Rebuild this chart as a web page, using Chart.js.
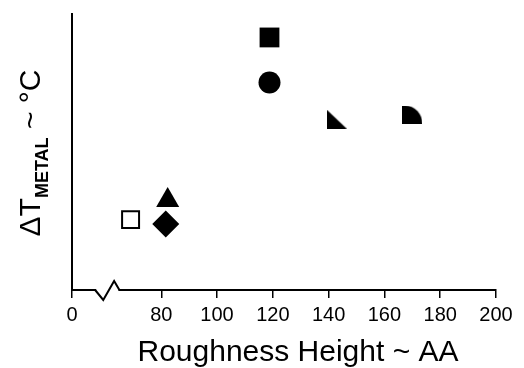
<!DOCTYPE html>
<html>
<head>
<meta charset="utf-8">
<script src="https://cdn.jsdelivr.net/npm/chart.js@4"></script>
<style>
  html, body { margin: 0; padding: 0; background: #fff; }
  canvas { display: block; }
</style>
</head>
<body>
<canvas id="roughChart" width="524" height="368"></canvas>
<script>
// Werte (x: Rauheit, y: relative Lage, keine Skala angegeben)
const markerNames = ["open square", "triangle", "diamond", "square", "circle", "right triangle", "quarter disc"];
const roughness = [69, 82.3, 81.6, 118.8, 118.8, 142.9, 170];
const deltaT = [25.5, 32.5, 23.9, 91.5, 75.2, 61.9, 63.5];

// Achse: gebrochen, "0" sitzt bei 48
const xTickValues = [48, 80, 100, 120, 140, 160, 180, 200];
const xTickLabels = ["0", "80", "100", "120", "140", "160", "180", "200"];
const breakValues = [56.3, 59.2, 63.1, 65.0];

const FONT = "'Liberation Sans', Arial, sans-serif";

// eigene Marker als kleine Canvas
function makeRightTriangle() {
  const c = document.createElement("canvas");
  c.width = 20; c.height = 19;
  const g = c.getContext("2d");
  g.fillStyle = "#000";
  g.beginPath();
  g.moveTo(0, 0); g.lineTo(0, 19); g.lineTo(20, 19);
  g.closePath(); g.fill();
  return c;
}
function makeQuarterDisc() {
  const c = document.createElement("canvas");
  c.width = 20; c.height = 18;
  const g = c.getContext("2d");
  g.fillStyle = "#000";
  g.beginPath();
  g.moveTo(0, 18);
  g.lineTo(0, 0);
  g.lineTo(3, 0);
  g.ellipse(3, 18, 17, 18, 0, -Math.PI / 2, 0);
  g.closePath(); g.fill();
  return c;
}

const styles = [
  { pointStyle: "rect", radius: 12, bg: "#fff", border: 2 },
  { pointStyle: "triangle", radius: 13.3, bg: "#000", border: 0 },
  { pointStyle: "rectRot", radius: 13.5, bg: "#000", border: 0 },
  { pointStyle: "rect", radius: 14, bg: "#000", border: 0 },
  { pointStyle: "circle", radius: 11, bg: "#000", border: 0 },
  { pointStyle: makeRightTriangle(), radius: 10, bg: "#000", border: 0 },
  { pointStyle: makeQuarterDisc(), radius: 10, bg: "#000", border: 0 }
];

const datasets = markerNames.map((name, i) => ({
  label: name,
  data: [{ x: roughness[i], y: deltaT[i] }],
  pointStyle: styles[i].pointStyle,
  pointRadius: styles[i].radius,
  pointHoverRadius: styles[i].radius,
  backgroundColor: styles[i].bg,
  borderColor: "#000",
  borderWidth: styles[i].border,
  showLine: false
}));

// Achsenbruch + Achsentitel
const decorPlugin = {
  id: "decor",
  afterDraw(chart) {
    const ctx = chart.ctx;
    const xs = chart.scales.x;
    const area = chart.chartArea;
    const yb = area.bottom;
    const px = breakValues.map(v => xs.getPixelForValue(v));

    ctx.save();
    ctx.strokeStyle = "#fff";
    ctx.lineWidth = 5;
    ctx.beginPath();
    ctx.moveTo(px[0] + 1, yb); ctx.lineTo(px[3] - 1, yb);
    ctx.stroke();

    ctx.strokeStyle = "#000";
    ctx.lineWidth = 2;
    ctx.lineJoin = "miter";
    ctx.beginPath();
    ctx.moveTo(px[0], yb);
    ctx.lineTo(px[1], yb + 10);
    ctx.lineTo(px[2], yb - 9);
    ctx.lineTo(px[3], yb);
    ctx.stroke();

    // x-Titel
    ctx.fillStyle = "#000";
    ctx.font = "30px " + FONT;
    ctx.textAlign = "center";
    ctx.textBaseline = "alphabetic";
    ctx.fillText("Roughness Height ~ AA", 298, 361);

    // y-Titel mit Index
    const big = "30px " + FONT;
    const sub = "bold 18px " + FONT;
    const parts = [
      { t: "\u0394T", f: big, dy: 0 },
      { t: "METAL", f: sub, dy: 8 },
      { t: " ~ \u00B0C", f: big, dy: 0 }
    ];
    let total = 0;
    parts.forEach(p => { ctx.font = p.f; p.w = ctx.measureText(p.t).width; total += p.w; });
    ctx.translate(40, 153);
    ctx.rotate(-Math.PI / 2);
    ctx.textAlign = "left";
    let x = -total / 2;
    parts.forEach(p => {
      ctx.font = p.f;
      ctx.fillText(p.t, x, p.dy);
      x += p.w;
    });
    ctx.restore();
  }
};

new Chart(document.getElementById("roughChart"), {
  type: "scatter",
  data: { datasets },
  options: {
    responsive: false,
    animation: false,
    layout: { padding: { left: 72, right: 28, top: 12, bottom: 36 } },
    scales: {
      x: {
        type: "linear",
        min: 48,
        max: 200,
        afterBuildTicks: (scale) => { scale.ticks = xTickValues.map(v => ({ value: v })); },
        ticks: {
          autoSkip: false,
          maxRotation: 0,
          padding: 5,
          color: "#000",
          font: { family: FONT, size: 20 },
          callback: (v) => xTickLabels[xTickValues.indexOf(v)]
        },
        grid: { drawOnChartArea: false, color: "#000", lineWidth: 1.5, tickLength: 8 },
        border: { display: true, color: "#000", width: 2 }
      },
      y: {
        type: "linear",
        min: 0,
        max: 100,
        ticks: { display: false },
        grid: { drawOnChartArea: false, drawTicks: false },
        border: { display: true, color: "#000", width: 2 }
      }
    },
    plugins: {
      legend: { display: false },
      tooltip: { enabled: false }
    }
  },
  plugins: [decorPlugin]
});
</script>
</body>
</html>
